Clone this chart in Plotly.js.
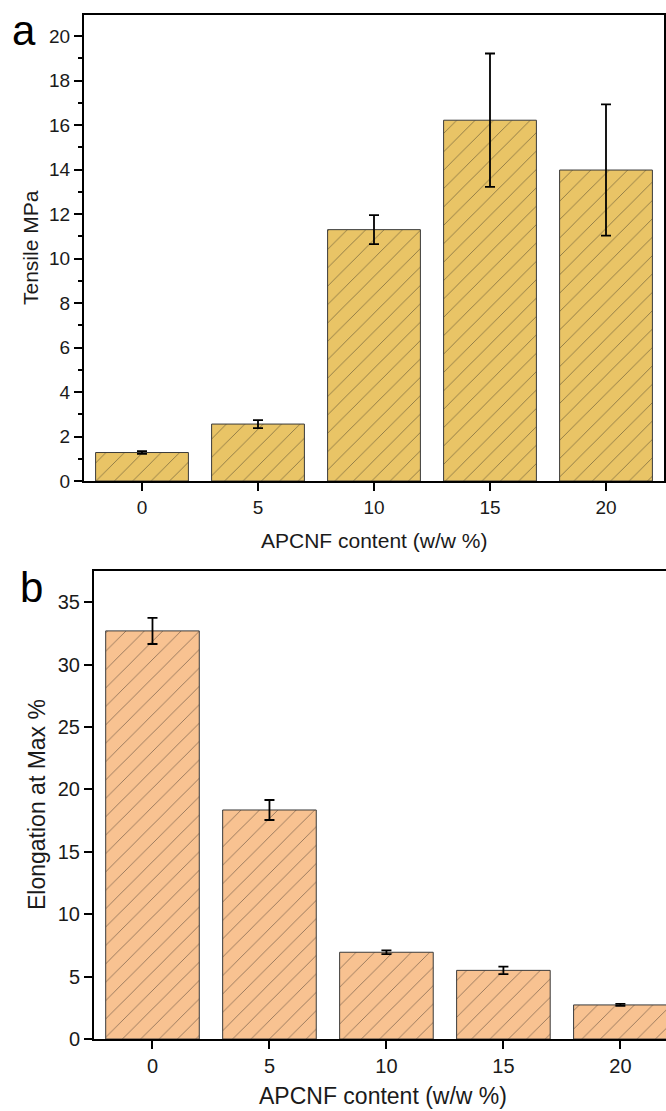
<!DOCTYPE html>
<html>
<head>
<meta charset="utf-8">
<script src="https://cdn.plot.ly/plotly-3.0.1.min.js"></script>
<style>html,body{margin:0;padding:0;background:#fff;}#chart{width:666px;height:1111px;}</style>
</head>
<body>
<div id="chart"></div>
<script>
// Data
const categories = ['0', '5', '10', '15', '20'];
const tensile = [1.28, 2.56, 11.3, 16.22, 13.98];
const tensileErr = [0.06, 0.18, 0.65, 3.0, 2.95];
const elongation = [32.7, 18.35, 6.95, 5.5, 2.73];
const elongationErr = [1.05, 0.8, 0.15, 0.3, 0.08];
const xTitle = 'APCNF content (w/w %)';
const yTitleA = 'Tensile MPa';
const yTitleB = 'Elongation at Max %';

const FONT = 'Liberation Sans, Arial, sans-serif';
const TXT = '#1a1a1a';

const traceA = {
  type: 'bar', x: categories, y: tensile, xaxis: 'x', yaxis: 'y', width: 0.8,
  marker: {color: '#E9C466', line: {color: '#3a3a3a', width: 1},
    pattern: {shape: '/', fgcolor: '#2e2a22', bgcolor: '#E9C466', size: 13, solidity: 0.07, fillmode: 'overlay'}},
  error_y: {type: 'data', array: tensileErr, visible: true, color: '#000', thickness: 1.8, width: 5},
  hoverinfo: 'none', showlegend: false
};
const traceB = {
  type: 'bar', x: categories, y: elongation, xaxis: 'x2', yaxis: 'y2', width: 0.8,
  marker: {color: '#F8C291', line: {color: '#3a3a3a', width: 1},
    pattern: {shape: '/', fgcolor: '#2e2622', bgcolor: '#F8C291', size: 13, solidity: 0.07, fillmode: 'overlay'}},
  error_y: {type: 'data', array: elongationErr, visible: true, color: '#000', thickness: 1.8, width: 5},
  hoverinfo: 'none', showlegend: false
};

const H = 1111, W = 666;
const axisCommon = {
  showline: true, linecolor: '#000', linewidth: 2, showgrid: false, zeroline: false,
  ticks: 'outside', ticklen: 8, tickwidth: 2, tickcolor: '#000',
  tickfont: {family: FONT, size: 19, color: TXT}, automargin: false
};

function ann(text, x, y, size, angle) {
  return {text: text, xref: 'paper', yref: 'paper', x: x / W, y: 1 - y / H,
    xanchor: 'center', yanchor: 'middle', showarrow: false, textangle: angle || 0,
    font: {family: FONT, size: size, color: TXT}};
}

const layout = {
  width: W, height: H,
  margin: {l: 0, r: 0, t: 0, b: 0},
  paper_bgcolor: '#fff', plot_bgcolor: '#fff',
  font: {family: FONT, color: TXT},
  xaxis: Object.assign({}, axisCommon, {
    domain: [84 / W, 664 / W], anchor: 'y', type: 'category', range: [-0.5, 4.5], mirror: true
  }),
  yaxis: Object.assign({}, axisCommon, {
    domain: [1 - 481 / H, 1 - 15 / H], anchor: 'x', range: [0, 20.95], dtick: 2, tick0: 0, mirror: true,
    minor: {ticks: 'outside', ticklen: 4, tickwidth: 2, tickcolor: '#000', dtick: 1}
  }),
  xaxis2: Object.assign({}, axisCommon, {
    domain: [94 / W, 1], anchor: 'y2', type: 'category', range: [-0.5, 4.39], mirror: true,
    tickfont: {family: FONT, size: 20, color: TXT}
  }),
  yaxis2: Object.assign({}, axisCommon, {
    domain: [1 - 1039 / H, 1 - 571 / H], anchor: 'x2', range: [0, 37.5], dtick: 5, tick0: 0, mirror: false,
    tickfont: {family: FONT, size: 20, color: TXT}
  }),
  annotations: [
    ann(xTitle, 374, 540, 21, 0),
    ann(yTitleA, 31, 248, 21, -90),
    ann(xTitle, 383, 1096, 23, 0),
    ann(yTitleB, 37, 805, 23, -90),
    {text: 'a', xref: 'paper', yref: 'paper', x: 10 / W, y: 1 - 30 / H, xanchor: 'left', yanchor: 'middle',
     showarrow: false, font: {family: FONT, size: 42, color: '#000'}},
    {text: 'b', xref: 'paper', yref: 'paper', x: 18 / W, y: 1 - 587 / H, xanchor: 'left', yanchor: 'middle',
     showarrow: false, font: {family: FONT, size: 42, color: '#000'}}
  ]
};

Plotly.newPlot('chart', [traceA, traceB], layout, {displayModeBar: false, staticPlot: true});
</script>
</body>
</html>
